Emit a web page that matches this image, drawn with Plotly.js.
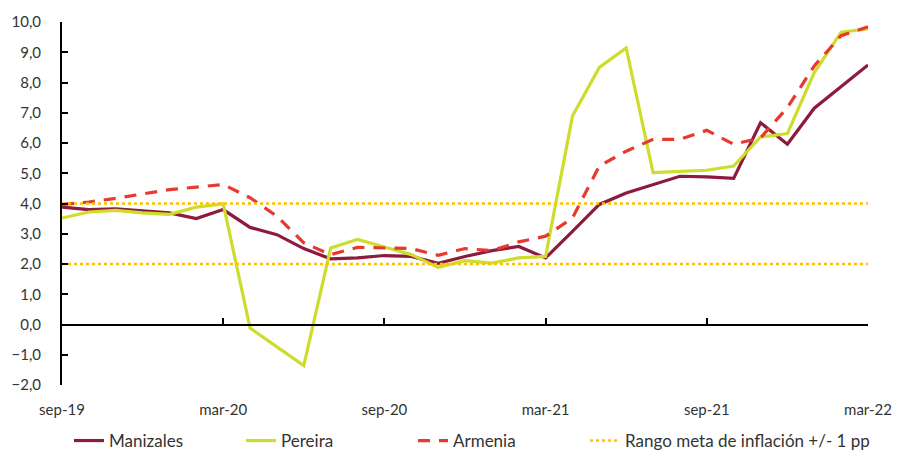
<!DOCTYPE html>
<html>
<head>
<meta charset="utf-8">
<script src="https://cdn.plot.ly/plotly-3.0.1.min.js"></script>
<style>html,body{margin:0;padding:0;background:#fff;}#chart{width:897px;height:451px;}</style>
</head>
<body>
<div id="chart"></div>
<script>
const months = ["sep-19","oct-19","nov-19","dic-19","ene-20","feb-20","mar-20","abr-20","may-20","jun-20","jul-20","ago-20","sep-20","oct-20","nov-20","dic-20","ene-21","feb-21","mar-21","abr-21","may-21","jun-21","jul-21","ago-21","sep-21","oct-21","nov-21","dic-21","ene-22","feb-22","mar-22"];
const manizales = [3.88,3.80,3.82,3.75,3.69,3.50,3.80,3.21,2.97,2.51,2.17,2.20,2.28,2.25,2.02,2.25,2.44,2.58,2.20,3.08,3.97,4.35,4.63,4.90,4.88,4.83,6.67,5.96,7.15,7.86,8.58];
const pereira = [3.52,3.72,3.77,3.69,3.64,3.88,3.99,-0.12,-0.74,-1.36,2.53,2.81,2.56,2.31,1.89,2.11,2.03,2.20,2.25,6.89,8.50,9.14,5.02,5.05,5.10,5.24,6.20,6.31,8.33,9.66,9.77];
const armenia = [3.97,4.05,4.17,4.32,4.46,4.54,4.63,4.19,3.58,2.70,2.31,2.55,2.54,2.51,2.29,2.51,2.44,2.73,2.92,3.52,5.24,5.73,6.12,6.12,6.42,5.96,6.17,7.17,8.55,9.55,9.84];
const metaLow = 2;
const metaHigh = 4;
const tickLabels = ["sep-19","mar-20","sep-20","mar-21","sep-21","mar-22"];

const FONT = "Lato, 'Open Sans', sans-serif";
const traces = [
  {x: months, y: manizales, name: "Manizales", type: "scatter", mode: "lines",
   line: {color: "#8C1B3E", width: 3.2}},
  {x: months, y: pereira, name: "Pereira", type: "scatter", mode: "lines",
   line: {color: "#CEDC2B", width: 3.2}},
  {x: months, y: armenia, name: "Armenia", type: "scatter", mode: "lines",
   line: {color: "#E8392E", width: 3.2, dash: "12px,9px"}},
  {x: months, y: months.map(() => metaHigh), name: "Rango meta de inflación +/- 1 pp", legend: "legend2", type: "scatter", mode: "lines",
   line: {color: "#FFC000", width: 2.5, dash: "dot"}},
  {x: months, y: months.map(() => metaLow), name: "Rango meta low", showlegend: false, type: "scatter", mode: "lines",
   line: {color: "#FFC000", width: 2.5, dash: "dot"}},
  {x: months, y: months.map(() => null), xaxis: "x2", showlegend: false, hoverinfo: "skip", type: "scatter", mode: "lines"}
];

const legendFont = {size: 17, color: "#333", family: FONT};
const layout = {
  width: 897, height: 451,
  margin: {l: 62, r: 29, t: 22, b: 66},
  paper_bgcolor: "#fff", plot_bgcolor: "#fff",
  separators: ", ",
  font: {family: FONT, color: "#333", size: 15},
  showlegend: true,
  legend: {orientation: "h", xref: "container", yref: "container", x: 69/897, xanchor: "left",
           y: 10/451, yanchor: "middle", entrywidthmode: "pixels", entrywidth: 127,
           font: legendFont, itemwidth: 30, tracegroupgap: 0},
  legend2: {orientation: "h", xref: "container", yref: "container", x: 585/897, xanchor: "left",
           y: 10/451, yanchor: "middle", font: legendFont, itemwidth: 30, tracegroupgap: 0},
  xaxis: {type: "category", range: [0, 30], tickmode: "array", tickvals: tickLabels, ticktext: tickLabels,
          showline: false, showgrid: false, zeroline: false, ticks: "outside", ticklen: 11, tickcolor: "rgba(0,0,0,0)",
          tickfont: {size: 15, color: "#333"}},
  xaxis2: {type: "category", overlaying: "x", matches: "x", anchor: "free", position: 1/6, side: "bottom",
           range: [0, 30], tickmode: "array", tickvals: tickLabels, showticklabels: false,
           showline: true, linecolor: "#000", linewidth: 2, ticks: "inside", ticklen: 6, tickwidth: 2, tickcolor: "#000",
           showgrid: false, zeroline: false},
  yaxis: {range: [-2, 10], dtick: 1, tick0: 0, tickformat: ".1f", showgrid: false, zeroline: false,
          showline: true, linecolor: "#000", linewidth: 2, ticks: "inside", ticklen: 6, tickwidth: 2, tickcolor: "#000",
          ticklabelstandoff: 16, tickfont: {size: 15, color: "#333"}}
};
Plotly.newPlot("chart", traces, layout, {displayModeBar: false, staticPlot: true});
</script>
</body>
</html>
